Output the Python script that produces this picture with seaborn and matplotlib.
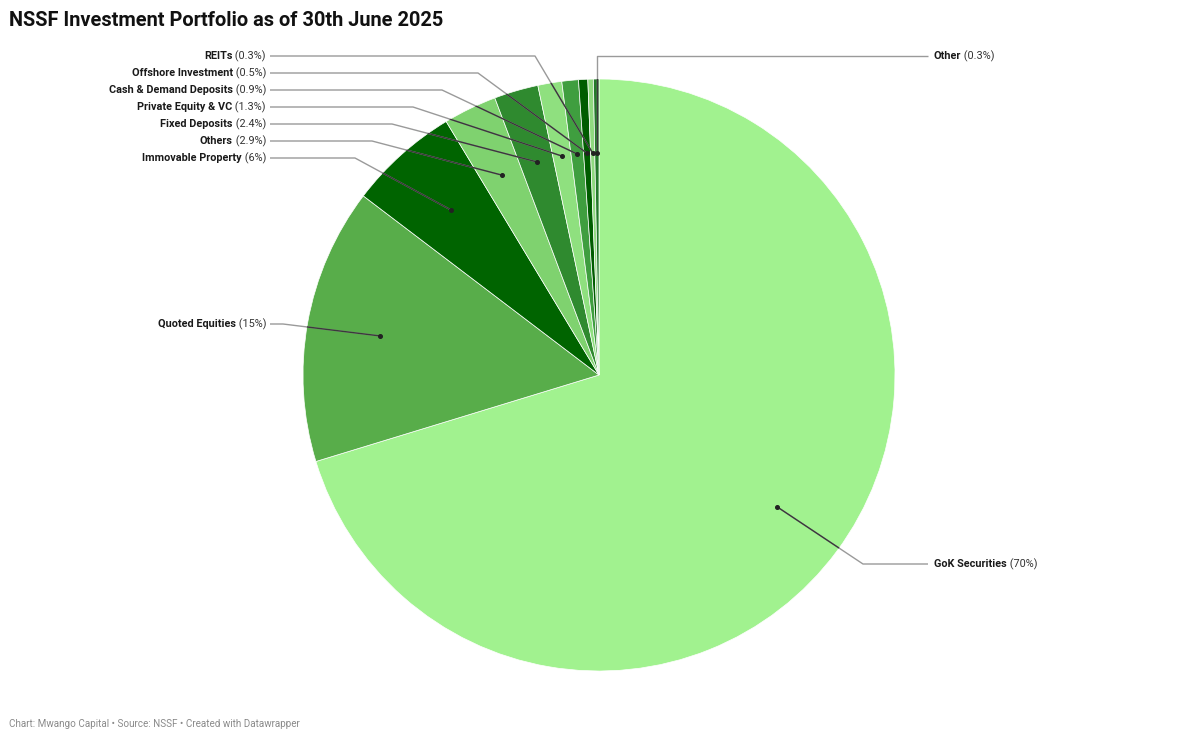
import matplotlib
matplotlib.use("Agg")
import matplotlib.pyplot as plt
from matplotlib.patches import Circle
import seaborn as sns
import numpy as np

# NSSF investment portfolio, 30 June 2025 (share of total, %)
categories = ["GoK Securities", "Quoted Equities", "Immovable Property", "Others",
              "Fixed Deposits", "Private Equity & VC", "Cash & Demand Deposits",
              "Offshore Investment", "REITs", "Other"]
shares = [70, 15, 6, 2.9, 2.4, 1.3, 0.9, 0.5, 0.3, 0.3]

colors = ["#a1f28f", "#58ad4a", "#006400", "#7fd26f", "#2f8a2f",
          "#8fe07f", "#3f9e3f", "#005c00", "#8fd97f", "#237a2a"]

# label layout in pixels: side, label y, elbow x (None = straight up from dot)
sides = ["right", "left", "left", "left", "left", "left", "left", "left", "left", "right"]
label_y = [564, 324, 158, 141, 124, 107, 90, 73, 56, 56]
elbow_x = [863, 283, 355, 372, 392, 413, 442, 478, 535, None]

W, H = 1200, 739
sns.set_theme(style="white")
plt.rcParams["font.family"] = ["Roboto", "DejaVu Sans"]

fig = plt.figure(figsize=(12, 7.39), dpi=100)
ax = fig.add_axes([0, 0, 1, 1])

def py(y):
    return H - y

cx, cy, R = 599, py(375), 296
wedges, _ = ax.pie(shares, colors=colors, startangle=90, counterclock=False,
                   center=(cx, cy), radius=R, frame=True,
                   wedgeprops=dict(edgecolor="white", linewidth=0.5))
ax.set_xlim(0, W)
ax.set_ylim(0, H)
ax.set_aspect("auto")
ax.axis("off")

clip = Circle((cx, cy), R, transform=ax.transData)

total = sum(shares)
cum = np.cumsum([0] + shares[:-1])
fig.canvas.draw()
rend = fig.canvas.get_renderer()

fs = 7.8
for i, name in enumerate(categories):
    frac = (cum[i] + shares[i] / 2) / total
    ang = np.deg2rad(90 - 360 * frac)
    dx, dy = cx + 0.75 * R * np.cos(ang), cy + 0.75 * R * np.sin(ang)
    ly = py(label_y[i])
    ex = dx if elbow_x[i] is None else elbow_x[i]
    x0 = 270 if sides[i] == "left" else 928
    xs = [x0, ex, dx]
    ys = [ly, ly, dy]
    ax.plot(xs, ys, color="#9a9a9a", lw=1, solid_capstyle="butt", zorder=3)
    inner, = ax.plot(xs, ys, color="#3a3a3a", lw=1, zorder=4)
    inner.set_clip_path(clip)
    ax.plot(dx, dy, "o", color="#222222", ms=2.6, zorder=5)

    pct = f" ({shares[i]:g}%)"
    if sides[i] == "left":
        t = ax.text(266, ly, pct, ha="right", va="center", fontsize=fs,
                    color="#333333")
        bb = t.get_window_extent(rend)
        ax.text(bb.x0, ly, name, ha="right", va="center", fontsize=fs,
                fontweight="bold", color="#1a1a1a")
    else:
        t = ax.text(934, ly, name, ha="left", va="center", fontsize=fs,
                    fontweight="bold", color="#1a1a1a")
        bb = t.get_window_extent(rend)
        ax.text(bb.x1, ly, pct, ha="left", va="center", fontsize=fs,
                color="#333333")

ax.text(9, py(20), "NSSF Investment Portfolio as of 30th June 2025", ha="left",
        va="center", fontsize=14.4, fontweight="bold", color="#111111")
ax.text(9, py(724), "Chart: Mwango Capital \u2022 Source: NSSF \u2022 Created with Datawrapper",
        ha="left", va="center", fontsize=7.15, color="#8a8a8a")

fig.savefig("out.png", dpi=100)
